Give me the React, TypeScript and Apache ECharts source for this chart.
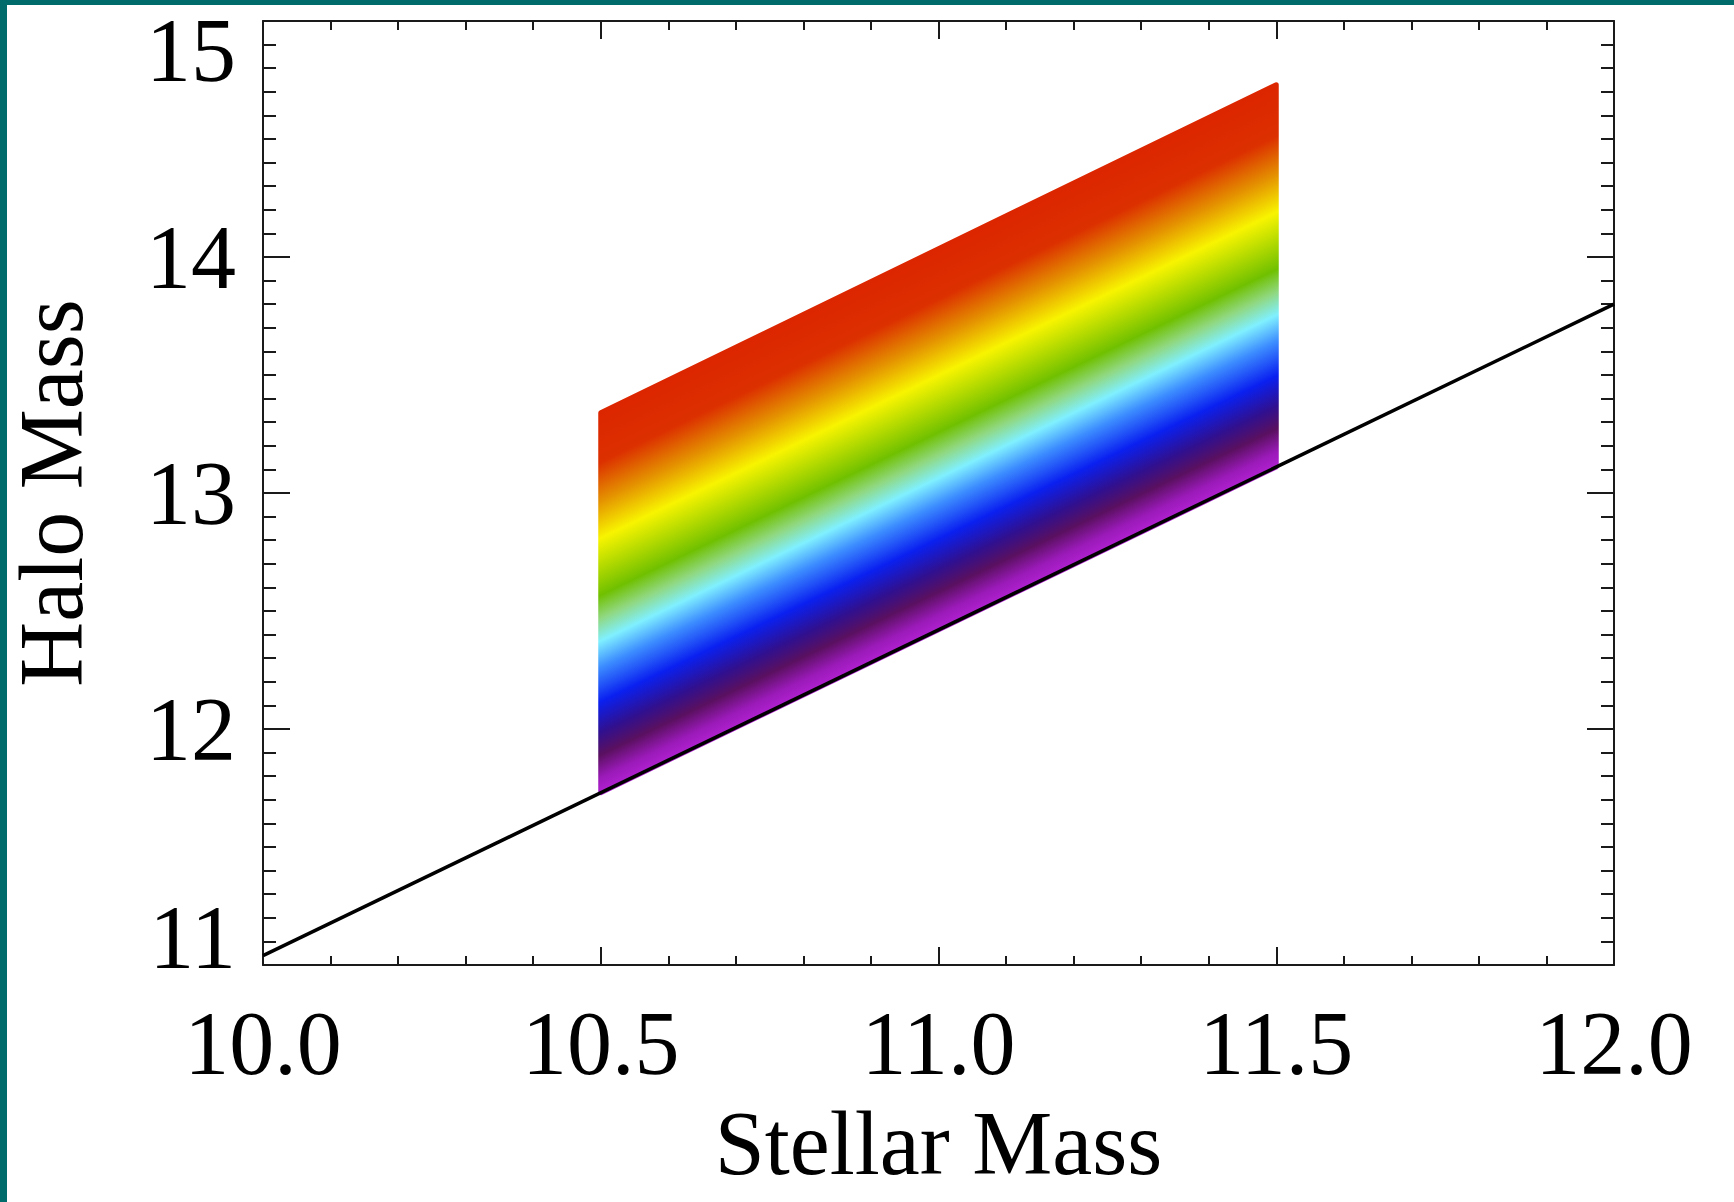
import React, { useEffect, useRef } from "react";
import * as echarts from "echarts";

// Reference relation (black line)
const relationX = [10.0, 12.0];
const relationY = [11.04, 13.8];

// Rainbow band: x extent, lower edge and upper edge of halo mass
const bandX = [10.5, 11.5];
const bandLow = [11.73, 13.11];
const bandHigh = [13.34, 14.73];

// Colour table across the band (0 = lower edge, 1 = upper edge)
const bandStopPos = [0.0, 0.04, 0.1, 0.16, 0.24, 0.33, 0.4, 0.46, 0.52, 0.67, 0.77, 0.87, 1.0];
const bandStopColors = [
  "#b020d0", "#9a1ab8", "#5a1060", "#301090", "#0a20f0", "#3c8cff",
  "#80f0ff", "#90d880", "#70c000", "#f8f400", "#e49000", "#dc3000", "#dc2600",
];

const xMin = 10, xMax = 12, xInterval = 0.5;
const yMin = 11, yMax = 15, yInterval = 1;

const FONT = "'Liberation Serif', 'Times New Roman', serif";
const AXIS_COLOR = "#1a1a1a";

export default function App() {
  const ref = useRef<HTMLDivElement>(null);
  useEffect(() => {
    if (!ref.current) return;
    const chart = echarts.init(ref.current, null, { renderer: "svg" });

    const axisCommon = (mirror: boolean, isX: boolean) => ({
      type: "value",
      min: isX ? xMin : yMin,
      max: isX ? xMax : yMax,
      interval: isX ? xInterval : yInterval,
      axisLine: { show: true, onZero: false, lineStyle: { color: AXIS_COLOR, width: 2 } },
      axisTick: { show: true, inside: true, length: isX ? 18 : 27, lineStyle: { color: AXIS_COLOR, width: 2 } },
      minorTick: { show: true, splitNumber: isX ? 5 : 10, length: isX ? 9 : 13, lineStyle: { color: AXIS_COLOR, width: 2 } },
      splitLine: { show: false },
      minorSplitLine: { show: false },
      axisLabel: { show: !mirror },
    });

    const labelStyle = { fontFamily: FONT, fontSize: 90, color: "#000" };

    const option: any = {
      animation: false,
      backgroundColor: "#ffffff",
      grid: { left: 263, top: 21, right: 120, bottom: 237, outerBoundsMode: "none", containLabel: false },
      graphic: [
        { type: "rect", left: 0, top: 0, shape: { width: 1734, height: 5 }, style: { fill: "#006b6b" }, z: 100 },
        { type: "rect", left: 0, top: 0, shape: { width: 7, height: 1202 }, style: { fill: "#006b6b" }, z: 100 },
      ],
      xAxis: [
        {
          ...axisCommon(false, true),
          position: "bottom",
          name: "Stellar Mass",
          nameLocation: "middle",
          nameGap: 133,
          nameTextStyle: { ...labelStyle },
          axisLabel: {
            show: true,
            margin: 33,
            ...labelStyle,
            formatter: (v: number) => v.toFixed(1),
          },
        },
        { ...axisCommon(true, true), position: "top" },
      ],
      yAxis: [
        {
          ...axisCommon(false, false),
          position: "left",
          name: "Halo Mass",
          nameLocation: "middle",
          nameGap: 167,
          nameRotate: 90,
          nameTextStyle: { ...labelStyle },
          axisLabel: {
            show: true,
            margin: 27,
            ...labelStyle,
            formatter: (v: number) =>
              v === yMax ? "" : v === yMin ? `{bot|${v}}` : `{n|${v}}`,
            rich: {
              bot: { ...labelStyle, padding: [0, 0, 55, 0] },
              n: { ...labelStyle },
            },
          },
        },
        { ...axisCommon(true, false), position: "right" },
        {
          // label-only axis for the top tick label, kept inside the page
          type: "value",
          position: "left",
          min: yMin,
          max: yMax,
          interval: yInterval,
          axisLine: { show: false },
          axisTick: { show: false },
          minorTick: { show: false },
          splitLine: { show: false },
          axisLabel: {
            show: true,
            margin: 27,
            verticalAlign: "top",
            ...labelStyle,
            formatter: (v: number) => (v === yMax ? `{top|${v}}` : ""),
            rich: {
              top: { ...labelStyle, lineHeight: 58 },
            },
          },
        },
      ],
      series: [
        {
          type: "custom",
          xAxisIndex: 0,
          yAxisIndex: 0,
          clip: true,
          z: 2,
          data: bandX.map((x, i) => [x, bandLow[i], bandHigh[i]]),
          renderItem: (params: any, api: any) => {
            if (params.dataIndex !== 0) return null;
            const b0 = api.coord([bandX[0], bandLow[0]]);
            const b1 = api.coord([bandX[1], bandLow[1]]);
            const t1 = api.coord([bandX[1], bandHigh[1]]);
            const t0 = api.coord([bandX[0], bandHigh[0]]);
            const ex = b1[0] - b0[0];
            const ey = b1[1] - b0[1];
            const len = Math.sqrt(ex * ex + ey * ey);
            const nx = ey / len;
            const ny = -ex / len;
            const d = (t0[0] - b0[0]) * nx + (t0[1] - b0[1]) * ny;
            const gx = b0[0] + nx * d;
            const gy = b0[1] + ny * d;
            const grad = new echarts.graphic.LinearGradient(
              b0[0], b0[1], gx, gy,
              bandStopPos.map((p, i) => ({ offset: p, color: bandStopColors[i] })),
              true
            );
            return {
              type: "polygon",
              shape: { points: [b0, b1, t1, t0] },
              style: { fill: grad, stroke: grad, lineWidth: 5, lineJoin: "round" },
            };
          },
        },
        {
          type: "line",
          xAxisIndex: 0,
          yAxisIndex: 0,
          z: 3,
          symbol: "none",
          data: relationX.map((x, i) => [x, relationY[i]]),
          lineStyle: { color: "#000", width: 3.5 },
        },
      ],
    };
    chart.setOption(option);
    return () => chart.dispose();
  }, []);
  return (
    <div
      ref={ref}
      style={{ position: "absolute", left: 0, top: 0, width: 1734, height: 1202, background: "#fff" }}
    />
  );
}
